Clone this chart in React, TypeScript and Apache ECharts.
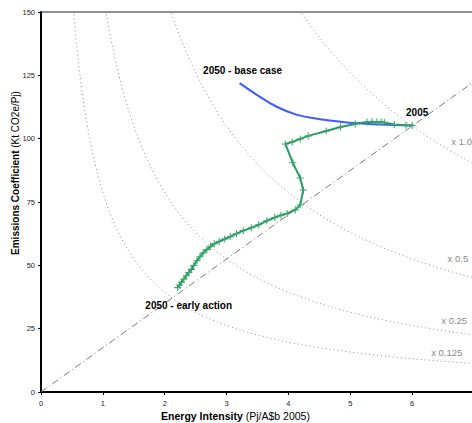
import React, { useEffect, useRef } from "react";
import * as echarts from "echarts";

// Early action pathway, 2005 -> 2050 (energy intensity, emissions coefficient)
const earlyActionIntensity = [
  6.0, 5.9, 5.71, 5.55, 5.5, 5.43, 5.35, 5.27, 5.08, 4.84, 4.61, 4.32, 4.19, 4.06, 3.95,
  4.07, 4.19, 4.24, 4.19, 4.11, 3.98, 3.88, 3.78, 3.65, 3.52, 3.4, 3.27, 3.16, 3.06, 2.97,
  2.88, 2.8, 2.74, 2.68, 2.62, 2.57, 2.52, 2.47, 2.43, 2.39, 2.35, 2.31, 2.27, 2.24, 2.21,
];
const earlyActionCoeff = [
  105.2, 105.3, 105.6, 106.4, 106.6, 106.6, 106.7, 106.6, 105.8, 104.6, 103.0, 101.1, 99.9, 98.7, 97.9,
  90.5, 84.5, 79.7, 73.8, 71.9, 70.5, 69.8, 68.9, 67.6, 66.0, 64.8, 63.7, 62.5, 61.3, 60.4,
  59.4, 58.5, 57.5, 56.2, 54.9, 53.4, 51.8, 49.9, 48.4, 47.2, 45.9, 44.6, 43.3, 42.2, 41.2,
];
// Base case pathway
const baseCaseIntensity = [6.0, 5.5, 5.11, 4.84, 4.51, 4.14, 3.81, 3.49, 3.21];
const baseCaseCoeff = [105.2, 105.6, 106.1, 106.7, 107.7, 109.4, 112.6, 117.3, 121.9];

// Iso-emission curves: factor of 2005 emissions (intensity x coefficient)
const isoFactors = [1.0, 0.5, 0.25, 0.125];
const isoLabels = ["x 1.0", "x 0.5", "x 0.25", "x 0.125"];
const isoLabelAt = [6.8, 6.74, 6.68, 6.56];
const isoLabelLift = [16, 15, 12, 9];
const base2005 = { intensity: 6.0, coeff: 105 };

const xMin = 0, xMax = 7, xInterval = 1;
const yMin = 0, yMax = 150, yInterval = 25;

const FONT = "'Liberation Sans', Arial, sans-serif";

export default function App() {
  const ref = useRef<HTMLDivElement>(null);
  useEffect(() => {
    if (!ref.current) return;
    const chart = echarts.init(ref.current, undefined, { renderer: "svg" });
    const product2005 = base2005.intensity * base2005.coeff;

    const isoSeries = isoFactors.map((f, i) => {
      const k = product2005 * f;
      const pts: number[][] = [];
      const start = k / 160;
      for (let j = 0; j <= 300; j++) {
        const x = start + ((7.5 - start) * j) / 300;
        pts.push([x, k / x]);
      }
      const lx = isoLabelAt[i];
      return {
        type: "line",
        data: pts,
        symbol: "none",
        silent: true,
        lineStyle: { color: "#8a8a8a", width: 1, type: [1, 3] },
        z: 1,
        markPoint: {
          symbol: "circle",
          symbolSize: 0,
          data: [{ coord: [lx, k / lx] }],
          label: {
            show: true,
            formatter: isoLabels[i],
            color: "#8a8a8a",
            fontSize: 9.5,
            fontFamily: FONT,
            position: "inside",
            offset: [0, -isoLabelLift[i]],
          },
        },
      };
    });

    const ratio = base2005.coeff / base2005.intensity;
    const diagonal = [
      [0, 0],
      [8, 8 * ratio],
    ];

    const annot = (text: string, position: string, distance: number, offset: number[]) => ({
      show: true,
      formatter: text,
      position,
      distance,
      offset,
      fontWeight: "bold",
      fontSize: 10,
      fontFamily: FONT,
      color: "#000",
    });

    const green = earlyActionIntensity.map((x, i) => {
      const item: any = { value: [x, earlyActionCoeff[i]] };
      if (i === 0) item.label = annot("2005", "top", 4, [5, 0]);
      if (i === earlyActionIntensity.length - 1)
        item.label = annot("2050 - early action", "bottom", 9, [11, 0]);
      return item;
    });

    const blue = baseCaseIntensity.map((x, i) => {
      const item: any = { value: [x, baseCaseCoeff[i]] };
      if (i === baseCaseIntensity.length - 1)
        item.label = annot("2050 - base case", "top", 8, [3, 0]);
      return item;
    });

    chart.setOption({
      animation: false,
      grid: {
        left: 41,
        right: 26,
        top: 12,
        bottom: 31,
        containLabel: false,
        outerBoundsMode: "none",
        show: true,
        borderColor: "#222",
        borderWidth: 1,
        backgroundColor: "#fff",
      },
      xAxis: {
        type: "value",
        min: xMin,
        max: xMax,
        interval: xInterval,
        splitLine: { show: false },
        axisLine: { show: true, lineStyle: { color: "#000", width: 2 } },
        axisTick: { show: true, length: 3, lineStyle: { color: "#000" } },
        axisLabel: { fontSize: 7.5, color: "#222", fontFamily: FONT, margin: 7 },
        name: "{b|Energy Intensity} (Pj/A$b 2005)",
        nameLocation: "middle",
        nameGap: 18,
        nameMoveOverlap: false,
        nameTextStyle: {
          fontSize: 10.5,
          color: "#000",
          fontFamily: FONT,
          padding: [0, 44, 0, 0],
          rich: {
            b: { fontSize: 10.5, fontWeight: "bold", color: "#000", fontFamily: FONT },
          },
        },
      },
      yAxis: {
        type: "value",
        min: yMin,
        max: yMax,
        interval: yInterval,
        splitLine: { show: false },
        axisLine: { show: true, lineStyle: { color: "#000", width: 2 } },
        axisTick: { show: true, length: 3, lineStyle: { color: "#000" } },
        axisLabel: { fontSize: 7.5, color: "#222", fontFamily: FONT, margin: 6 },
        name: "{b|Emissions Coefficient} (Kt CO2e/Pj)",
        nameLocation: "middle",
        nameGap: 21,
        nameMoveOverlap: false,
        nameTextStyle: {
          fontSize: 10,
          color: "#000",
          fontFamily: FONT,
          padding: [0, 0, 0, 58],
          rich: {
            b: { fontSize: 10, fontWeight: "bold", color: "#000", fontFamily: FONT },
          },
        },
      },
      series: [
        ...isoSeries,
        {
          type: "line",
          data: diagonal,
          symbol: "none",
          silent: true,
          z: 1,
          lineStyle: { color: "#7a7a7a", width: 1, type: [7, 3, 1, 3] },
        },
        {
          type: "line",
          data: blue,
          symbol: "circle",
          symbolSize: 0,
          showAllSymbol: true,
          smooth: 0.4,
          z: 3,
          lineStyle: { color: "#3b5cff", width: 2 },
          itemStyle: { color: "#3b5cff" },
        },
        {
          type: "line",
          data: green,
          symbol: "path://M-0.6,-4h1.2v8h-1.2zM-4,-0.6h8v1.2h-8z",
          symbolSize: 7,
          showAllSymbol: true,
          z: 4,
          lineStyle: { color: "#2a9a5e", width: 2 },
          itemStyle: { color: "#36a66a" },
        },
      ],
    });
    return () => chart.dispose();
  }, []);
  return (
    <div style={{ position: "fixed", left: 0, top: 0, width: 472, height: 423, overflow: "hidden", background: "#fff" }}>
      <div ref={ref} style={{ width: 500, height: 423 }} />
    </div>
  );
}
